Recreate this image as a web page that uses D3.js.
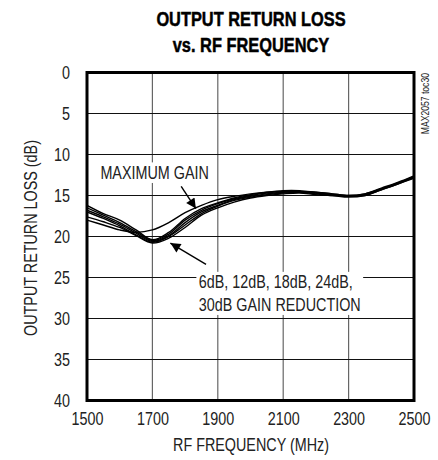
<!DOCTYPE html>
<html>
<head>
<meta charset="utf-8">
<script src="https://cdn.jsdelivr.net/npm/d3@7"></script>
<style>
  body { margin: 0; background: #fff; }
  svg text { font-family: "Liberation Sans", Arial, sans-serif; fill: #222; }
</style>
</head>
<body>
<svg id="graphique" width="438" height="460"></svg>
<script>
// frequency points (MHz)
var freqs = [1500,1550,1600,1650,1700,1750,1800,1850,1900,1950,2000,2050,2100,2150,2200,2250,2300,2350,2400,2450,2500];

// output return loss (dB)
var maxGain = [18.0,18.6,19.2,19.5,19.2,18.3,17.1,16.2,15.5,15.1,14.8,14.6,14.5,14.5,14.6,14.8,15.0,14.8,14.2,13.5,12.7];
var red6dB  = [16.2,17.2,18.0,19.2,20.4,19.5,17.8,16.6,15.9,15.3,14.9,14.6,14.4,14.4,14.6,14.8,15.0,14.8,14.1,13.4,12.6];
var red12dB = [16.5,17.4,18.3,19.4,20.5,19.7,18.0,16.8,16.0,15.4,15.0,14.7,14.5,14.5,14.7,14.9,15.1,14.9,14.2,13.5,12.7];
var red18dB = [16.8,17.6,18.5,19.6,20.6,19.9,18.3,17.0,16.2,15.5,15.1,14.8,14.6,14.6,14.7,14.9,15.1,14.9,14.2,13.5,12.7];
var red24dB = [17.0,17.8,18.7,19.8,20.7,20.0,18.6,17.2,16.3,15.6,15.2,14.9,14.7,14.6,14.8,15.0,15.1,15.0,14.3,13.6,12.8];
var red30dB = [17.6,18.2,18.9,19.9,20.8,20.2,18.9,17.4,16.5,15.8,15.3,15.0,14.8,14.7,14.9,15.0,15.2,15.0,14.3,13.6,12.9];

var xTicks = [1500,1700,1900,2100,2300,2500];
var yTicks = [0,5,10,15,20,25,30,35,40];

var series = [maxGain, red6dB, red12dB, red18dB, red24dB, red30dB];

var graphique = d3.select("#graphique");
var MARGINS = { top: 72.5, right: 24, bottom: 59.5, left: 87 };
var WIDTH = 438, HEIGHT = 460;
var NARROW = 0.82;  // pas de police "narrow" installée, on compresse

var xScale = d3.scaleLinear().domain([1500,2500]).range([MARGINS.left, WIDTH - MARGINS.right]);
var yScale = d3.scaleLinear().domain([0,40]).range([MARGINS.top, HEIGHT - MARGINS.bottom]);

function narrowText(x, y, str, size, anchor, rotate, squeeze){
  return graphique.append("text")
    .attr("transform", "translate(" + x + "," + y + ")" + (rotate ? " rotate(" + rotate + ")" : "") + " scale(" + (squeeze || NARROW) + ",1)")
    .attr("text-anchor", anchor)
    .attr("font-size", size)
    .text(str);
}

//// titre
narrowText(251, 26, "OUTPUT RETURN LOSS", 21, "middle", 0, 0.78)
  .attr("font-weight", "bold").style("fill", "#000").style("stroke", "#000").style("stroke-width", 0.5);
narrowText(251, 52, "vs. RF FREQUENCY", 21, "middle", 0, 0.78)
  .attr("font-weight", "bold").style("fill", "#000").style("stroke", "#000").style("stroke-width", 0.5);

//// grille
graphique.append("g")
  .selectAll("line")
  .data(xTicks.slice(1, -1))
  .enter().append("line")
  .attr("x1", function(d){ return xScale(d); })
  .attr("x2", function(d){ return xScale(d); })
  .attr("y1", yScale(0)).attr("y2", yScale(40))
  .attr("stroke", "#666").attr("stroke-width", 1.2);

graphique.append("g")
  .selectAll("line")
  .data(yTicks.slice(1, -1))
  .enter().append("line")
  .attr("x1", xScale(1500)).attr("x2", xScale(2500))
  .attr("y1", function(d){ return yScale(d); })
  .attr("y2", function(d){ return yScale(d); })
  .attr("stroke", "#111").attr("stroke-width", 1.1);

//// axes (labels only)
var xAxis = d3.axisBottom(xScale).tickValues(xTicks).tickSize(0).tickPadding(12).tickFormat(d3.format("d"));
var yAxis = d3.axisLeft(yScale).tickValues(yTicks).tickSize(0).tickPadding(17);

var gx = graphique.append("g")
  .attr("transform", "translate(0," + yScale(40) + ")")
  .call(xAxis);
var gy = graphique.append("g")
  .attr("transform", "translate(" + xScale(1500) + ",0)")
  .call(yAxis);
[gx, gy].forEach(function(g){
  g.select(".domain").remove();
  g.selectAll("text").attr("font-size", 17.5).attr("font-family", null).style("fill", "#222");
});
gx.selectAll("text").attr("transform", "scale(" + NARROW + ",1)");
gy.selectAll("text").attr("x", 0).attr("transform", "translate(-17,0) scale(" + NARROW + ",1)");

narrowText(251, 451, "RF FREQUENCY (MHz)", 17.5, "middle");
narrowText(37, 238, "OUTPUT RETURN LOSS (dB)", 17.5, "middle", -90);
narrowText(429, 73, "MAX2057 toc30", 10.5, "end", -90);

//// annotations avec fond blanc
function label(lines, x, y, lineHeight){
  var g = graphique.append("g")
    .attr("transform", "translate(" + x + "," + y + ") scale(" + NARROW + ",1)");
  var t = g.append("text").attr("font-size", 17.5);
  lines.forEach(function(l, i){
    t.append("tspan").attr("x", 0).attr("dy", i == 0 ? 0 : lineHeight).text(l);
  });
  var bb = t.node().getBBox();
  g.insert("rect", "text")
    .attr("x", bb.x - 3).attr("y", bb.y - 1)
    .attr("width", bb.width + 6).attr("height", bb.height + 2)
    .attr("fill", "#fff");
}
label(["MAXIMUM GAIN"], xScale(1541), yScale(12.95), 0);
label(["6dB, 12dB, 18dB, 24dB,", "30dB GAIN REDUCTION"], xScale(1842), yScale(26.3), 22.5);

//// courbes
var line = d3.line()
  .x(function(d, i){ return xScale(freqs[i]); })
  .y(function(d){ return yScale(d); })
  .curve(d3.curveCatmullRom);

graphique.append("clipPath").attr("id", "clip")
  .append("rect")
  .attr("x", xScale(1500)).attr("y", yScale(0))
  .attr("width", xScale(2500) - xScale(1500)).attr("height", yScale(40) - yScale(0));

graphique.append("g").attr("clip-path", "url(#clip)")
  .selectAll("path")
  .data(series)
  .enter().append("path")
  .attr("d", function(d){ return line(d); })
  .attr("fill", "none")
  .attr("stroke", "#000")
  .attr("stroke-width", 1.4);

//// flèches
graphique.append("defs").append("marker")
  .attr("id", "fleche")
  .attr("viewBox", "0 0 10 10")
  .attr("refX", 10).attr("refY", 5)
  .attr("markerWidth", 14).attr("markerHeight", 10)
  .attr("markerUnits", "userSpaceOnUse")
  .attr("orient", "auto")
  .append("path")
  .attr("d", "M0,0 L10,5 L0,10 Z")
  .attr("fill", "#000");

var arrows = [
  { from: [1788, 13.9], to: [1833, 16.6] },
  { from: [1864, 23.4], to: [1755, 20.8] }
];
graphique.append("g")
  .selectAll("line")
  .data(arrows)
  .enter().append("line")
  .attr("x1", function(d){ return xScale(d.from[0]); })
  .attr("y1", function(d){ return yScale(d.from[1]); })
  .attr("x2", function(d){ return xScale(d.to[0]); })
  .attr("y2", function(d){ return yScale(d.to[1]); })
  .attr("stroke", "#000").attr("stroke-width", 1.4)
  .attr("marker-end", "url(#fleche)");

//// cadre
graphique.append("rect")
  .attr("x", xScale(1500)).attr("y", yScale(0))
  .attr("width", xScale(2500) - xScale(1500))
  .attr("height", yScale(40) - yScale(0))
  .attr("fill", "none").attr("stroke", "#000").attr("stroke-width", 3);
</script>
</body>
</html>
